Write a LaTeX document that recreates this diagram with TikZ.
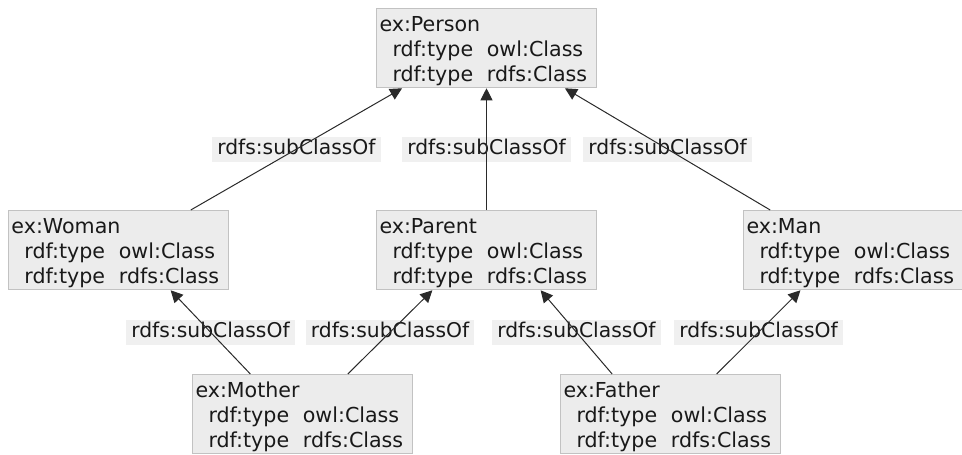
\documentclass[tikz,border=0pt]{standalone}
\usepackage{fontspec}
\setmainfont{DejaVu Sans}
\usetikzlibrary{arrows.meta,calc}
\definecolor{boxfill}{HTML}{ECECEC}
\definecolor{boxline}{HTML}{C2C2C2}
\definecolor{lblfill}{HTML}{F0F0F0}
\definecolor{edgeline}{HTML}{2A2A2A}
\newcommand{\clsbox}[1]{\rule{0pt}{21pt}ex:#1\\\hspace*{13pt}rdf:type\ \ owl:Class\\\hspace*{13pt}rdf:type\ \ rdfs:Class}

\begin{document}
\begin{tikzpicture}[x=1pt,y=-1pt,
    cls/.style={draw=boxline, fill=boxfill, line width=1pt, anchor=north west,
      text width=214pt, inner xsep=3pt, inner ysep=2pt, align=left,
      font=\fontsize{20.6}{25}\selectfont, text=black!90},
    lbl/.style={fill=lblfill, behind path, inner xsep=5pt, inner ysep=3pt,
      text height=15pt, text depth=4pt, font=\fontsize{20.3}{25}\selectfont, text=black!90},
    sub/.style={draw=edgeline, line width=1pt, -{Triangle[length=12pt,width=12pt]}}]

        \useasboundingbox (0,0) rectangle (962,455);

        % class boxes
        \node[cls] (person) at (376,8)   {\clsbox{Person}};
        \node[cls] (woman)  at (8,210)   {\clsbox{Woman}};
        \node[cls] (parent) at (376,210) {\clsbox{Parent}};
        \node[cls] (man)    at (743,210) {\clsbox{Man}};
        \node[cls] (mother) at (192,374) {\clsbox{Mother}};
        \node[cls] (father) at (560,374) {\clsbox{Father}};

        % subclass edges, upper row
        \draw[sub] ($(woman.north west)!0.827!(woman.north east)$)
            -- node[lbl] {rdfs:subClassOf} ($(person.south west)!0.118!(person.south east)$);
        \draw[sub] (parent.north)
            -- node[lbl] {rdfs:subClassOf} (person.south);
        \draw[sub] ($(man.north west)!0.123!(man.north east)$)
            -- node[lbl] {rdfs:subClassOf} ($(person.south west)!0.855!(person.south east)$);

        % subclass edges, lower row
        \draw[sub] ($(mother.north west)!0.264!(mother.north east)$)
            -- node[lbl] {rdfs:subClassOf} ($(woman.south west)!0.736!(woman.south east)$);
        \draw[sub] ($(mother.north west)!0.705!(mother.north east)$)
            -- node[lbl] {rdfs:subClassOf} ($(parent.south west)!0.255!(parent.south east)$);
        \draw[sub] ($(father.north west)!0.236!(father.north east)$)
            -- node[lbl] {rdfs:subClassOf} ($(parent.south west)!0.745!(parent.south east)$);
        \draw[sub] ($(father.north west)!0.709!(father.north east)$)
            -- node[lbl] {rdfs:subClassOf} ($(man.south west)!0.26!(man.south east)$);
\end{tikzpicture}
\end{document}
